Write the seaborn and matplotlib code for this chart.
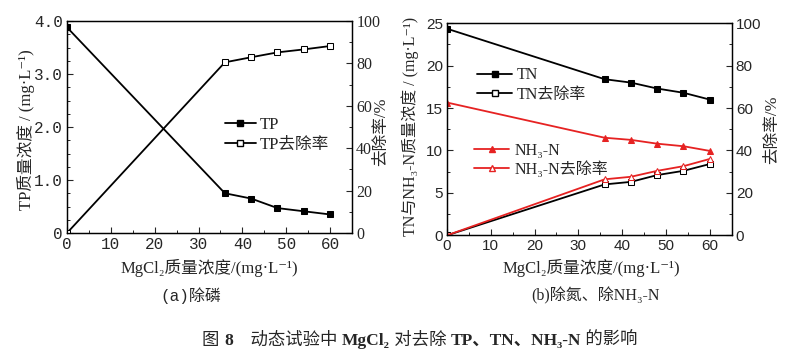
import matplotlib
matplotlib.use("Agg")
import matplotlib.pyplot as plt
import seaborn as sns
from matplotlib.ticker import MultipleLocator
from matplotlib.lines import Line2D

# -----------------------------
# data
# -----------------------------
mgcl2 = [0, 36, 42, 48, 54, 60]

tp_conc = [3.88, 0.75, 0.65, 0.47, 0.41, 0.35]
tp_removal = [0, 80.5, 82.9, 85.2, 86.6, 88.2]

tn_conc = [24.35, 18.4, 18.0, 17.3, 16.8, 16.0]
tn_removal = [0, 24.0, 25.2, 28.4, 30.4, 33.6]

nh3_conc = [15.65, 11.5, 11.25, 10.8, 10.5, 9.95]
nh3_removal = [0, 26.4, 27.6, 30.4, 32.6, 36.0]

RED = "#e62222"
SERIF = ["Liberation Serif", "Noto Sans CJK SC", "DejaVu Sans"]
MONO = ["Liberation Mono", "Noto Sans CJK SC", "DejaVu Sans"]
SANS = ["Liberation Sans", "Noto Sans CJK SC", "DejaVu Sans"]

sns.set_style("ticks")
plt.rcParams["font.family"] = SERIF
plt.rcParams["font.size"] = 10
plt.rcParams["axes.linewidth"] = 0.9

fig = plt.figure(figsize=(7.95, 3.56), dpi=100)
ax_a = fig.add_axes([0.0843, 0.3455, 0.3585, 0.5955])
ax_b = fig.add_axes([0.5623, 0.3390, 0.3580, 0.5958])
ax_a2 = ax_a.twinx()
ax_b2 = ax_b.twinx()

lw = 1.3
ms = 4


def style_axes(ax, ax2, ymax, ymajor, yminor):
    ax.set_xlim(0, 65)
    ax.set_ylim(0, ymax)
    ax2.set_ylim(0, 100)
    ax.xaxis.set_major_locator(MultipleLocator(10))
    ax.xaxis.set_minor_locator(MultipleLocator(5))
    ax.yaxis.set_major_locator(MultipleLocator(ymajor))
    ax.yaxis.set_minor_locator(MultipleLocator(yminor))
    ax2.yaxis.set_major_locator(MultipleLocator(20))
    ax2.yaxis.set_minor_locator(MultipleLocator(10))
    for a in (ax, ax2):
        a.tick_params(which="major", direction="in", length=4, width=0.8, pad=3)
        a.tick_params(which="minor", direction="in", length=2.5, width=0.7)
        for s in a.spines.values():
            s.set_visible(True)
            s.set_color("black")
    ax.set_xlabel("")
    ax.set_ylabel("")
    ax2.set_ylabel("")


def tick_font(labels, family, size):
    for lab in labels:
        lab.set_family(family)
        lab.set_fontsize(size)


# -----------------------------
# (a) phosphorus
# -----------------------------
sns.lineplot(x=mgcl2, y=tp_conc, ax=ax_a, color="black", marker="s",
             markersize=ms, markerfacecolor="black", markeredgecolor="black",
             linewidth=lw)
sns.lineplot(x=mgcl2, y=tp_removal, ax=ax_a2, color="black", marker="s",
             markersize=ms, markerfacecolor="white", markeredgecolor="black",
             linewidth=lw)
style_axes(ax_a, ax_a2, 4.0, 1.0, 0.25)
ax_a.yaxis.set_major_formatter(lambda v, p: "0" if v == 0 else f"{v:.1f}")
tick_font(ax_a.get_xticklabels() + ax_a.get_yticklabels(), MONO, 11.5)
tick_font(ax_a2.get_yticklabels(), SERIF, 11.5)

h_a = [Line2D([], [], color="black", marker="s", markersize=ms, lw=lw,
              markerfacecolor="black"),
       Line2D([], [], color="black", marker="s", markersize=ms, lw=lw,
              markerfacecolor="white")]
ax_a2.legend(h_a, ["TP", "TP去除率"], loc="upper left",
             bbox_to_anchor=(0.50, 0.617), frameon=False, fontsize=12,
             handlelength=1.9, handletextpad=0.2, labelspacing=0.2)

# -----------------------------
# (b) nitrogen
# -----------------------------
sns.lineplot(x=mgcl2, y=tn_conc, ax=ax_b, color="black", marker="s",
             markersize=ms, markerfacecolor="black", markeredgecolor="black",
             linewidth=lw)
sns.lineplot(x=mgcl2, y=nh3_conc, ax=ax_b, color=RED, marker="^",
             markersize=ms + 1, markerfacecolor=RED, markeredgecolor=RED,
             linewidth=lw)
sns.lineplot(x=mgcl2, y=tn_removal, ax=ax_b2, color="black", marker="s",
             markersize=ms, markerfacecolor="white", markeredgecolor="black",
             linewidth=lw)
sns.lineplot(x=mgcl2, y=nh3_removal, ax=ax_b2, color=RED, marker="^",
             markersize=ms + 1, markerfacecolor="white", markeredgecolor=RED,
             linewidth=lw)
style_axes(ax_b, ax_b2, 25, 5, 2.5)
tick_font(ax_b.get_xticklabels() + ax_b.get_yticklabels()
          + ax_b2.get_yticklabels(), SANS, 11)

h_tn = [Line2D([], [], color="black", marker="s", markersize=ms, lw=lw,
               markerfacecolor="black"),
        Line2D([], [], color="black", marker="s", markersize=ms, lw=lw,
               markerfacecolor="white")]
h_nh = [Line2D([], [], color=RED, marker="^", markersize=ms + 1, lw=lw,
               markerfacecolor=RED),
        Line2D([], [], color=RED, marker="^", markersize=ms + 1, lw=lw,
               markerfacecolor="white")]
leg1 = ax_b2.legend(h_tn, ["TN", "TN去除率"], loc="upper left",
                    bbox_to_anchor=(0.055, 0.86), frameon=False, fontsize=11.5,
                    handlelength=2.2, handletextpad=0.3, labelspacing=0.2)
ax_b2.add_artist(leg1)
ax_b2.legend(h_nh, ["NH₃-N", "NH₃-N去除率"], loc="upper left",
             bbox_to_anchor=(0.045, 0.505), frameon=False, fontsize=11.5,
             handlelength=2.2, handletextpad=0.3, labelspacing=0.15)

# -----------------------------
# axis labels and captions
# -----------------------------
fig.text(209 / 795, 1 - 268 / 356, "MgCl₂质量浓度/(mg·L⁻¹)", ha="center",
         va="center", fontsize=12)
fig.text(591 / 795, 1 - 268 / 356, "MgCl₂质量浓度/(mg·L⁻¹)", ha="center",
         va="center", fontsize=12)
fig.text(26 / 795, 1 - 130 / 356, "TP质量浓度 / (mg·L⁻¹)", ha="center",
         va="center", rotation=90, fontsize=12)
fig.text(410 / 795, 1 - 126 / 356, "TN与NH₃-N质量浓度 / (mg·L⁻¹)",
         ha="center", va="center", rotation=90, fontsize=11.5)
fig.text(381 / 795, 1 - 132 / 356, "去除率/%", ha="center", va="center",
         rotation=90, fontsize=12)
fig.text(772 / 795, 1 - 130 / 356, "去除率/%", ha="center", va="center",
         rotation=90, fontsize=12)
fig.text(191 / 795, 1 - 296 / 356, "(a)除磷", ha="center", va="center",
         fontsize=11.5, family=MONO)
fig.text(595 / 795, 1 - 296 / 356, "(b)除氮、除NH₃-N", ha="center",
         va="center", fontsize=11.5)

# caption with bold parts, laid out piece by piece
pieces = [("图 ", "normal"), ("8", "bold"), ("    动态试验中 ", "normal"),
          ("MgCl₂", "bold"), (" 对去除 ", "normal"),
          ("TP、TN、NH₃-N", "bold"), (" 的影响", "normal")]
renderer = fig.canvas.get_renderer()
texts = []
for s, w in pieces:
    t = fig.text(0, 1 - 341 / 356, s, ha="left", va="center", fontsize=12.5,
                 fontweight=w)
    texts.append(t)
widths = [t.get_window_extent(renderer).width for t in texts]
x = 420 - sum(widths) / 2
for t, w in zip(texts, widths):
    t.set_x(x / 795)
    x += w

fig.savefig("out.png", dpi=100)
